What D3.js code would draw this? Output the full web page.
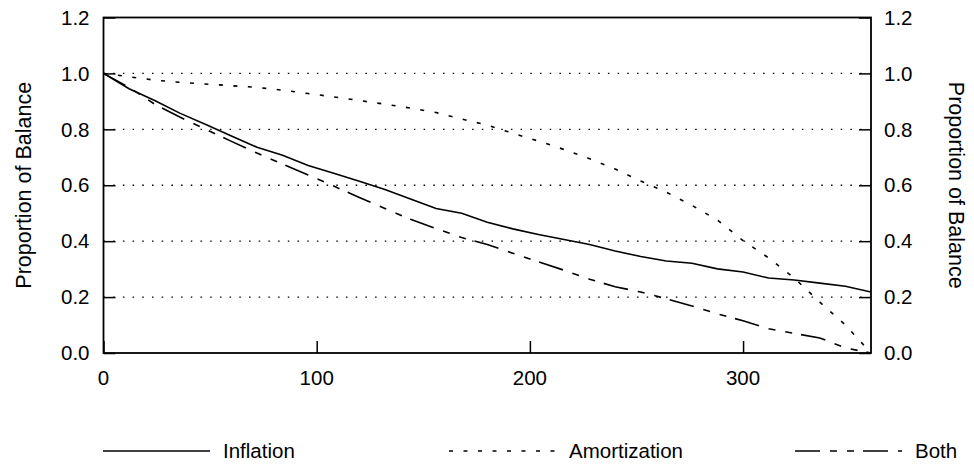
<!DOCTYPE html>
<html>
<head>
<meta charset="utf-8">
<script src="https://cdn.jsdelivr.net/npm/d3@7/dist/d3.min.js"></script>
<style>
  html, body { margin: 0; padding: 0; background: #fff; }
  svg { display: block; }
  text { font-family: "Liberation Sans", Arial, Helvetica, sans-serif; fill: #000; }
</style>
</head>
<body>
<svg id="chart" width="974" height="465"></svg>
<script>
// ---- data (months, yearly points) ----
const months = [0,12,24,36,48,60,72,84,96,108,120,132,144,156,168,180,192,204,216,228,240,252,264,276,288,300,312,324,336,348,360];
const inflation = [1.000,0.945,0.903,0.857,0.817,0.776,0.736,0.707,0.671,0.643,0.614,0.585,0.551,0.517,0.500,0.468,0.444,0.424,0.406,0.388,0.365,0.345,0.329,0.321,0.301,0.290,0.268,0.261,0.250,0.239,0.218];
const amortization = [1.000,0.988,0.976,0.968,0.962,0.956,0.950,0.940,0.928,0.916,0.903,0.890,0.876,0.860,0.837,0.815,0.786,0.758,0.728,0.695,0.658,0.615,0.575,0.528,0.475,0.402,0.340,0.268,0.182,0.100,0.000];
const both = [1.000,0.950,0.890,0.843,0.800,0.757,0.715,0.676,0.637,0.597,0.556,0.517,0.478,0.445,0.413,0.388,0.357,0.326,0.296,0.264,0.237,0.218,0.194,0.168,0.140,0.115,0.087,0.070,0.054,0.018,0.000];
const seriesNames = ["Inflation","Amortization","Both"];
const xTicks = [0,100,200,300];
const yTicks = [0.0,0.2,0.4,0.6,0.8,1.0,1.2];
const gridValues = [0.2,0.4,0.6,0.8,1.0];
const yTitle = "Proportion of Balance";

// ---- layout ----
const svg = d3.select("#chart");
const L = 103.5, R = 871, T = 17.5, B = 353;
const x = d3.scaleLinear().domain([0,360]).range([L,R]);
const y = d3.scaleLinear().domain([0,1.2]).range([B,T]);
const FS = 20.5, FT = 21.5;
const dashes = ["none", "4,10.5", "25,10,7,10,7,9"];

// gridlines
svg.append("g").selectAll("line").data(gridValues).join("line")
  .attr("x1", L).attr("x2", R)
  .attr("y1", d => y(d)).attr("y2", d => y(d))
  .attr("stroke", "#000").attr("stroke-width", 1.3)
  .attr("stroke-dasharray", "1.5,8.2");

// axes with inward ticks
const tickLen = 12;
const gL = svg.append("g").attr("transform", `translate(${L},0)`)
  .call(d3.axisRight(y).tickValues(yTicks).tickSize(tickLen).tickFormat(""));
const gR = svg.append("g").attr("transform", `translate(${R},0)`)
  .call(d3.axisLeft(y).tickValues(yTicks).tickSize(tickLen).tickFormat(""));
const gB = svg.append("g").attr("transform", `translate(0,${B})`)
  .call(d3.axisTop(x).tickValues(xTicks).tickSize(tickLen).tickFormat(""));
[gL, gR, gB].forEach(g => {
  g.select(".domain").remove();
  g.selectAll("line").attr("stroke", "#000").attr("stroke-width", 1.5);
});

// frame
svg.append("rect").attr("x", L).attr("y", T).attr("width", R - L).attr("height", B - T)
  .attr("fill", "none").attr("stroke", "#000").attr("stroke-width", 1.8);

// tick labels
const fmt = d3.format(".1f");
svg.append("g").selectAll("text").data(yTicks).join("text")
  .attr("x", L - 14).attr("y", d => y(d)).attr("dy", "0.35em")
  .attr("text-anchor", "end").attr("font-size", FS).text(fmt);
svg.append("g").selectAll("text").data(yTicks).join("text")
  .attr("x", R + 13).attr("y", d => y(d)).attr("dy", "0.35em")
  .attr("text-anchor", "start").attr("font-size", FS).text(fmt);
svg.append("g").selectAll("text").data(xTicks).join("text")
  .attr("x", d => x(d)).attr("y", B + 25).attr("dy", "0.35em")
  .attr("text-anchor", "middle").attr("font-size", FS).text(d => d);

// axis titles
svg.append("text").attr("transform", `translate(23,${(T + B) / 2}) rotate(-90)`)
  .attr("text-anchor", "middle").attr("dy", "0.35em").attr("font-size", FT).text(yTitle);
svg.append("text").attr("transform", `translate(957,${(T + B) / 2}) rotate(90)`)
  .attr("text-anchor", "middle").attr("dy", "0.35em").attr("font-size", FT).text(yTitle);

// lines
const allSeries = [inflation, amortization, both];
const line = d3.line().x((d, i) => x(months[i])).y(d => y(d));
svg.append("clipPath").attr("id", "clip").append("rect")
  .attr("x", L).attr("y", T).attr("width", R - L).attr("height", B - T);
svg.append("g").attr("clip-path", "url(#clip)").selectAll("path").data(allSeries).join("path")
  .attr("d", line)
  .attr("fill", "none").attr("stroke", "#000").attr("stroke-width", 1.6)
  .attr("stroke-dasharray", (d, i) => dashes[i]);

// legend
const legX = [103, 449, 795];
const legY = 451;
const lg = svg.append("g").selectAll("g").data(seriesNames).join("g")
  .attr("transform", (d, i) => `translate(${legX[i]},${legY})`);
lg.append("line").attr("x1", 0).attr("x2", 107).attr("y1", 0).attr("y2", 0)
  .attr("stroke", "#000").attr("stroke-width", 1.6)
  .attr("stroke-dasharray", (d, i) => dashes[i]);
lg.append("text").attr("x", 120).attr("y", 0).attr("dy", "0.35em")
  .attr("font-size", FS).text(d => d);
</script>
</body>
</html>
